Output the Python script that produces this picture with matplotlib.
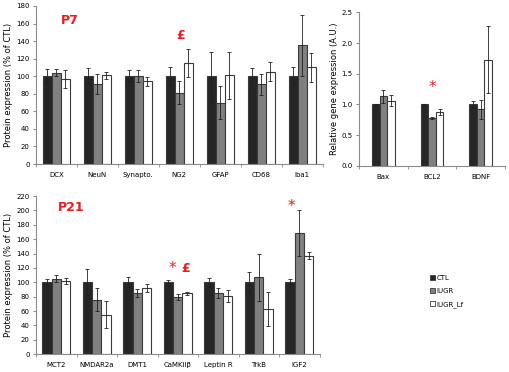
import numpy as np
import matplotlib
matplotlib.use("Agg")
import matplotlib.pyplot as plt

# P7 protein expression (% of CTL)
p7_labels = ["DCX", "NeuN", "Synapto.", "NG2", "GFAP", "CD68", "Iba1"]
p7_ctl = [100, 100, 100, 100, 100, 100, 100]
p7_ctl_err = [8, 9, 7, 10, 28, 9, 10]
p7_iugr = [104, 91, 100, 81, 70, 91, 135]
p7_iugr_err = [4, 11, 7, 13, 19, 12, 35]
p7_lf = [97, 101, 94, 115, 101, 105, 110]
p7_lf_err = [10, 4, 5, 16, 27, 11, 17]

# gene expression (A.U.)
gene_labels = ["Bax", "BCL2", "BDNF"]
gene_ctl = [1.0, 1.0, 1.0]
gene_ctl_err = [0.01, 0.01, 0.05]
gene_iugr = [1.13, 0.78, 0.92]
gene_iugr_err = [0.11, 0.02, 0.15]
gene_lf = [1.06, 0.88, 1.73]
gene_lf_err = [0.09, 0.05, 0.55]

# P21 protein expression (% of CTL)
p21_labels = ["MCT2", "NMDAR2a", "DMT1", "CaMKII\u03b2", "Leptin R", "TrkB", "IGF2"]
p21_ctl = [100, 100, 100, 100, 100, 100, 100]
p21_ctl_err = [4, 18, 7, 3.5, 6, 15, 4]
p21_iugr = [105, 76, 85, 80, 85, 107, 169]
p21_iugr_err = [5, 16, 6, 4, 7, 33, 32]
p21_lf = [102, 55, 92, 84.5, 81, 63, 137]
p21_lf_err = [4, 19, 5.5, 2.5, 8, 24, 4.5]

series_names = ["CTL", "IUGR", "IUGR_Lf"]
series_colors = ["#262626", "#808080", "#ffffff"]
RED = "#f01818"
AXIS_GRAY = "#8c8c8c"


def draw_groups(ax, labels, values, errors, width):
    x = np.arange(len(labels))
    for i, (vals, errs, color) in enumerate(zip(values, errors, series_colors)):
        ax.bar(x + (i - 1) * width, vals, width, color=color,
               edgecolor="#3a3a3a", linewidth=0.8,
               yerr=errs, error_kw=dict(ecolor="#202020", elinewidth=0.6,
                                        capsize=1.2, capthick=0.6))
    ax.set_xlim(-0.5, len(labels) - 0.5)
    ax.set_xticks(x)
    ax.set_xticklabels(labels)
    ax.set_xticks(np.arange(len(labels) + 1) - 0.5, minor=True)
    ax.tick_params(axis="x", which="major", length=0, labelsize=5, pad=6)
    ax.tick_params(axis="x", which="minor", length=2.5, color=AXIS_GRAY, direction="out")
    ax.tick_params(axis="y", length=2.5, color=AXIS_GRAY, labelsize=5, pad=2)
    for s in ["top", "right"]:
        ax.spines[s].set_visible(False)
    for s in ["left", "bottom"]:
        ax.spines[s].set_color(AXIS_GRAY)
        ax.spines[s].set_linewidth(0.8)


fig = plt.figure(figsize=(5.10, 3.72), dpi=100)

ax1 = fig.add_axes([0.0706, 0.559, 0.562, 0.425])
draw_groups(ax1, p7_labels, [p7_ctl, p7_iugr, p7_lf],
            [p7_ctl_err, p7_iugr_err, p7_lf_err], 0.22)
ax1.set_ylim(0, 180)
ax1.set_yticks(range(0, 181, 20))
ax1.set_ylabel("Protein expression (% of CTL)", fontsize=6, labelpad=2)
ax1.text(0.33, 164, "P7", color=RED, fontsize=9, fontweight="bold", ha="center", va="center")
ax1.text(3.04, 146, "\u00a3", color=RED, fontsize=9, fontweight="bold", ha="center", va="center")

ax2 = fig.add_axes([0.704, 0.554, 0.286, 0.413])
draw_groups(ax2, gene_labels, [gene_ctl, gene_iugr, gene_lf],
            [gene_ctl_err, gene_iugr_err, gene_lf_err], 0.155)
ax2.set_ylim(0, 2.5)
ax2.set_yticks(np.arange(0, 2.51, 0.5))
ax2.set_yticklabels([f"{v:.1f}" for v in np.arange(0, 2.51, 0.5)])
ax2.set_ylabel("Relative gene expression (A.U.)", fontsize=6, labelpad=2)
ax2.text(1.0, 1.28, "*", color=RED, fontsize=11, ha="center", va="center")

ax3 = fig.add_axes([0.0706, 0.048, 0.556, 0.425])
draw_groups(ax3, p21_labels, [p21_ctl, p21_iugr, p21_lf],
            [p21_ctl_err, p21_iugr_err, p21_lf_err], 0.23)
ax3.set_ylim(0, 220)
ax3.set_yticks(range(0, 221, 20))
ax3.set_ylabel("Protein expression (% of CTL)", fontsize=6, labelpad=2)
ax3.text(0.38, 204, "P21", color=RED, fontsize=9, fontweight="bold", ha="center", va="center")
ax3.text(2.86, 119, "*", color=RED, fontsize=11, ha="center", va="center")
ax3.text(3.2, 119, "\u00a3", color=RED, fontsize=9, fontweight="bold", ha="center", va="center")
ax3.text(5.8, 205, "*", color=RED, fontsize=11, ha="center", va="center")

handles = [plt.Rectangle((0, 0), 1, 1, facecolor=c, edgecolor="#3a3a3a", linewidth=0.6)
           for c in series_colors]
fig.legend(handles, series_names, loc="upper left", bbox_to_anchor=(0.838, 0.268),
           frameon=False, fontsize=5, handlelength=0.7, handleheight=0.7,
           handletextpad=0.2, labelspacing=1.0, borderaxespad=0)

fig.savefig("out.png", dpi=100)
